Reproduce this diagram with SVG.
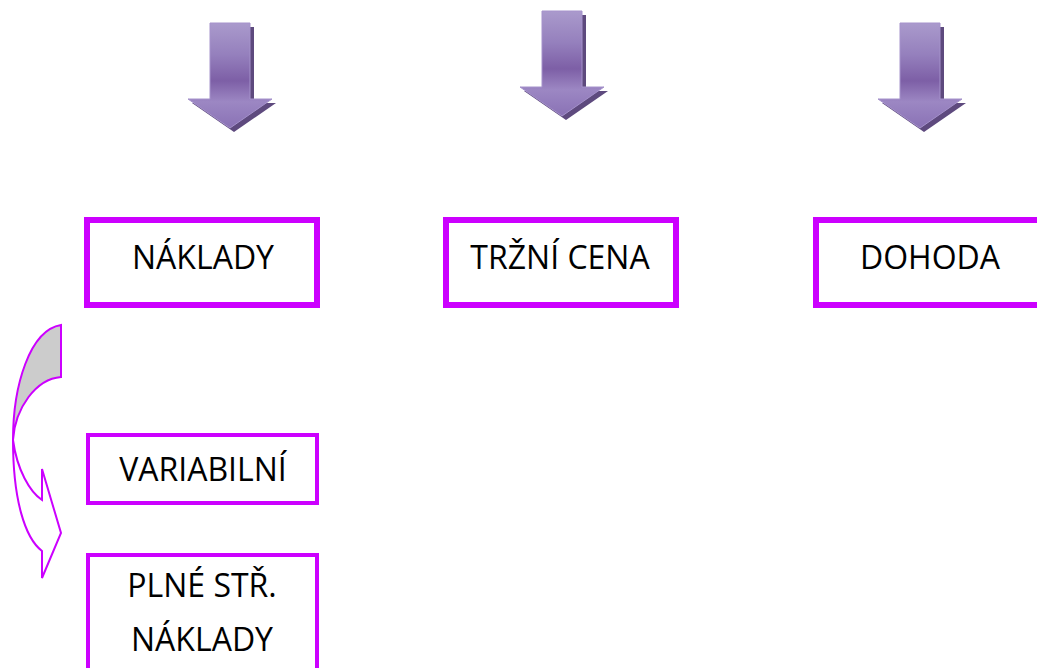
<svg xmlns="http://www.w3.org/2000/svg" width="1037" height="668" viewBox="0 0 1037 668">
  <defs>
    <linearGradient id="pg" x1="0" y1="0" x2="0" y2="1">
      <stop offset="0" stop-color="#aa9acc"/>
      <stop offset="0.3" stop-color="#9580bd"/>
      <stop offset="0.55" stop-color="#7d5fa6"/>
      <stop offset="0.75" stop-color="#9c87c3"/>
      <stop offset="1" stop-color="#8a72b5"/>
    </linearGradient>
    <path id="darrow" d="M-20,0 H20 V76 H42 L0,105 L-42,76 H-20 Z"/>
    <g id="blockarrow">
      <use href="#darrow" transform="translate(4,4)" fill="#5e4a7e"/>
      <use href="#darrow" fill="url(#pg)" stroke="#a592cb" stroke-width="1"/>
    </g>
  </defs>
  <style>
    .box { fill: #ffffff; stroke: #cc00ff; }
    .thick { stroke-width: 6; }
    .thin { stroke-width: 4; }
    .lbl { font-family: "Open Sans", "Liberation Sans", sans-serif; font-size: 32px; fill: #000000; text-anchor: middle; }
    .curve { stroke: #cc00ff; stroke-width: 2; stroke-linejoin: miter; }
  </style>

  <g id="connectors">
    <use id="arrow1" href="#blockarrow" transform="translate(230,23)"/>
    <use id="arrow2" href="#blockarrow" transform="translate(562,11)"/>
    <use id="arrow3" href="#blockarrow" transform="translate(920,23)"/>
    <g id="curved-arrow">
      <path class="curve" fill="#ffffff" d="M13,440 C13,500 25,538 42,551 L42,578 L61,533 L42,469 L42,500 C30,492 17,470 13,440 Z"/>
      <path class="curve" fill="#cccccc" d="M61,325 L61,377 C36,379 15,408 13,440 C13,385 30,330 61,325 Z"/>
    </g>
  </g>

  <g id="node-naklady">
    <rect class="box thick" x="87" y="220" width="230" height="85"/>
    <text class="lbl" x="203" y="269">NÁKLADY</text>
  </g>
  <g id="node-trzni-cena">
    <rect class="box thick" x="446" y="220" width="230" height="85"/>
    <text class="lbl" x="560" y="269">TRŽNÍ CENA</text>
  </g>
  <g id="node-dohoda">
    <rect class="box thick" x="816" y="220" width="230" height="85"/>
    <text class="lbl" x="930" y="269">DOHODA</text>
  </g>
  <g id="node-variabilni">
    <rect class="box thin" x="88" y="435" width="229" height="68"/>
    <text class="lbl" x="203" y="481">VARIABILNÍ</text>
  </g>
  <g id="node-plne">
    <rect class="box thin" x="88" y="555" width="229" height="130"/>
    <text class="lbl" x="202" y="597">PLNÉ STŘ.</text>
    <text class="lbl" x="202" y="651">NÁKLADY</text>
  </g>
</svg>
